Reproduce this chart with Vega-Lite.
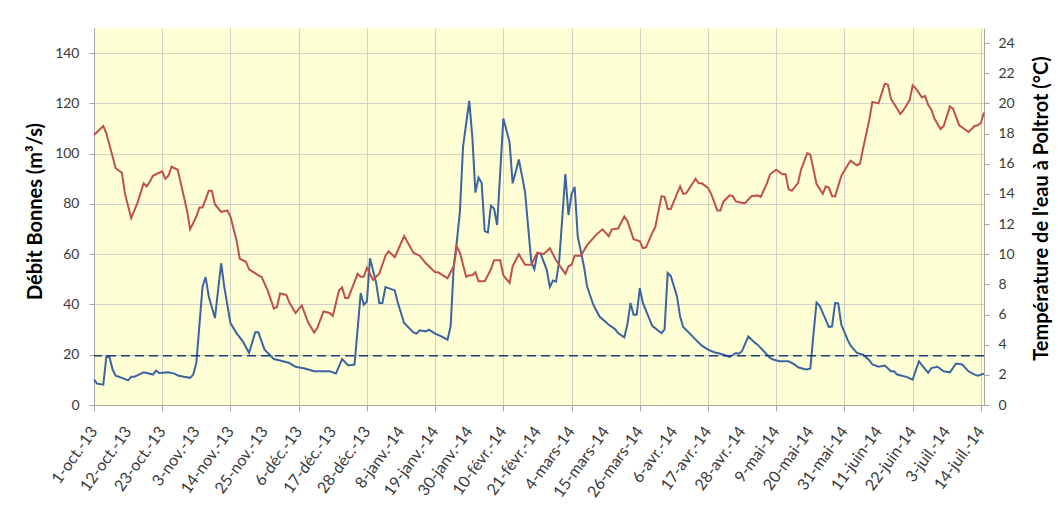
{
  "$schema": "https://vega.github.io/schema/vega-lite/v6.json",
  "width": 890,
  "height": 377,
  "autosize": {"type": "none"},
  "padding": {"left": 94, "top": 28, "right": 74, "bottom": 103},
  "background": "white",
  "config": {
    "view": {"fill": "#FFFFD5", "stroke": null},
    "font": "Lato",
    "axis": {
      "labelFont": "Lato",
      "titleFont": "Lato",
      "labelColor": "#3A3A3A",
      "labelFontSize": 14,
      "titleFontSize": 20,
      "titleFontWeight": "bold",
      "titleColor": "#000000",
      "gridColor": "#D2D2C4",
      "gridWidth": 1,
      "tickColor": "#A6A6A6",
      "domainColor": "#A6A6A6"
    }
  },
  "datasets": {
    "debit": [
      {"date": "2013-10-01", "q": 10.1}, {"date": "2013-10-02", "q": 8.5}, {"date": "2013-10-04", "q": 8.1},
      {"date": "2013-10-05", "q": 19.4}, {"date": "2013-10-06", "q": 19.0}, {"date": "2013-10-07", "q": 14.1},
      {"date": "2013-10-08", "q": 11.7}, {"date": "2013-10-10", "q": 10.8}, {"date": "2013-10-12", "q": 9.8},
      {"date": "2013-10-13", "q": 11.2}, {"date": "2013-10-14", "q": 11.2}, {"date": "2013-10-17", "q": 13.0},
      {"date": "2013-10-18", "q": 12.7}, {"date": "2013-10-20", "q": 12.1}, {"date": "2013-10-21", "q": 13.7},
      {"date": "2013-10-22", "q": 12.7}, {"date": "2013-10-25", "q": 13.0}, {"date": "2013-10-27", "q": 12.5},
      {"date": "2013-10-28", "q": 11.7}, {"date": "2013-10-30", "q": 11.2}, {"date": "2013-11-01", "q": 10.8},
      {"date": "2013-11-02", "q": 12.1}, {"date": "2013-11-03", "q": 16.7}, {"date": "2013-11-05", "q": 47.1},
      {"date": "2013-11-06", "q": 50.9}, {"date": "2013-11-07", "q": 43.2}, {"date": "2013-11-09", "q": 34.6},
      {"date": "2013-11-11", "q": 56.4}, {"date": "2013-11-12", "q": 47.1}, {"date": "2013-11-14", "q": 32.6},
      {"date": "2013-11-16", "q": 28.5}, {"date": "2013-11-18", "q": 25.3}, {"date": "2013-11-20", "q": 20.7},
      {"date": "2013-11-22", "q": 28.9}, {"date": "2013-11-23", "q": 28.9}, {"date": "2013-11-25", "q": 22.0},
      {"date": "2013-11-28", "q": 18.3}, {"date": "2013-11-30", "q": 17.7}, {"date": "2013-12-03", "q": 16.7},
      {"date": "2013-12-05", "q": 15.2}, {"date": "2013-12-08", "q": 14.5}, {"date": "2013-12-11", "q": 13.4},
      {"date": "2013-12-14", "q": 13.4}, {"date": "2013-12-16", "q": 13.4}, {"date": "2013-12-18", "q": 12.5},
      {"date": "2013-12-20", "q": 18.3}, {"date": "2013-12-22", "q": 15.7}, {"date": "2013-12-24", "q": 16.1},
      {"date": "2013-12-25", "q": 30.0}, {"date": "2013-12-26", "q": 44.5}, {"date": "2013-12-27", "q": 39.9},
      {"date": "2013-12-28", "q": 41.2}, {"date": "2013-12-29", "q": 58.4}, {"date": "2013-12-31", "q": 48.5},
      {"date": "2014-01-01", "q": 40.6}, {"date": "2014-01-02", "q": 40.6}, {"date": "2014-01-03", "q": 46.9},
      {"date": "2014-01-04", "q": 46.5}, {"date": "2014-01-06", "q": 45.6}, {"date": "2014-01-07", "q": 40.6},
      {"date": "2014-01-09", "q": 32.6}, {"date": "2014-01-12", "q": 28.9}, {"date": "2014-01-13", "q": 28.4},
      {"date": "2014-01-14", "q": 29.7}, {"date": "2014-01-16", "q": 29.3}, {"date": "2014-01-17", "q": 30.0},
      {"date": "2014-01-19", "q": 28.4}, {"date": "2014-01-21", "q": 27.3}, {"date": "2014-01-23", "q": 26.0},
      {"date": "2014-01-24", "q": 31.3}, {"date": "2014-01-25", "q": 55.0}, {"date": "2014-01-26", "q": 65.0},
      {"date": "2014-01-27", "q": 76.9}, {"date": "2014-01-28", "q": 102.7}, {"date": "2014-01-30", "q": 121.0},
      {"date": "2014-01-31", "q": 106.7}, {"date": "2014-02-01", "q": 84.5}, {"date": "2014-02-02", "q": 90.5},
      {"date": "2014-02-03", "q": 88.4}, {"date": "2014-02-04", "q": 69.2}, {"date": "2014-02-05", "q": 68.6},
      {"date": "2014-02-06", "q": 79.3}, {"date": "2014-02-07", "q": 78.2}, {"date": "2014-02-08", "q": 71.6},
      {"date": "2014-02-10", "q": 114.0}, {"date": "2014-02-12", "q": 104.7}, {"date": "2014-02-13", "q": 88.2},
      {"date": "2014-02-14", "q": 92.8}, {"date": "2014-02-15", "q": 97.7}, {"date": "2014-02-17", "q": 84.8},
      {"date": "2014-02-19", "q": 57.1}, {"date": "2014-02-20", "q": 54.0}, {"date": "2014-02-21", "q": 60.4},
      {"date": "2014-02-22", "q": 60.3}, {"date": "2014-02-24", "q": 53.8}, {"date": "2014-02-25", "q": 46.9},
      {"date": "2014-02-26", "q": 49.5}, {"date": "2014-02-27", "q": 49.1}, {"date": "2014-02-28", "q": 57.1},
      {"date": "2014-03-01", "q": 74.3}, {"date": "2014-03-02", "q": 91.9}, {"date": "2014-03-03", "q": 75.6},
      {"date": "2014-03-04", "q": 83.9}, {"date": "2014-03-05", "q": 86.8}, {"date": "2014-03-06", "q": 67.0},
      {"date": "2014-03-08", "q": 55.1}, {"date": "2014-03-09", "q": 47.1}, {"date": "2014-03-11", "q": 39.9},
      {"date": "2014-03-13", "q": 35.2}, {"date": "2014-03-16", "q": 31.9}, {"date": "2014-03-18", "q": 30.2},
      {"date": "2014-03-19", "q": 28.6}, {"date": "2014-03-21", "q": 26.9}, {"date": "2014-03-22", "q": 32.0},
      {"date": "2014-03-23", "q": 40.6}, {"date": "2014-03-24", "q": 35.9}, {"date": "2014-03-25", "q": 35.9},
      {"date": "2014-03-26", "q": 46.5}, {"date": "2014-03-27", "q": 40.6}, {"date": "2014-03-29", "q": 34.6},
      {"date": "2014-03-30", "q": 31.5}, {"date": "2014-04-02", "q": 28.6}, {"date": "2014-04-03", "q": 30.1},
      {"date": "2014-04-04", "q": 52.5}, {"date": "2014-04-05", "q": 51.3}, {"date": "2014-04-07", "q": 43.2},
      {"date": "2014-04-08", "q": 35.2}, {"date": "2014-04-09", "q": 31.0}, {"date": "2014-04-11", "q": 28.6},
      {"date": "2014-04-13", "q": 26.0}, {"date": "2014-04-15", "q": 23.6}, {"date": "2014-04-17", "q": 22.0},
      {"date": "2014-04-19", "q": 21.0}, {"date": "2014-04-21", "q": 20.4}, {"date": "2014-04-23", "q": 19.6},
      {"date": "2014-04-24", "q": 19.1}, {"date": "2014-04-26", "q": 20.7}, {"date": "2014-04-27", "q": 20.4},
      {"date": "2014-04-28", "q": 21.5}, {"date": "2014-04-30", "q": 27.3}, {"date": "2014-05-02", "q": 24.9},
      {"date": "2014-05-03", "q": 24.0}, {"date": "2014-05-05", "q": 21.4}, {"date": "2014-05-07", "q": 18.7},
      {"date": "2014-05-08", "q": 18.1}, {"date": "2014-05-10", "q": 17.4}, {"date": "2014-05-13", "q": 17.4},
      {"date": "2014-05-15", "q": 16.1}, {"date": "2014-05-16", "q": 15.0}, {"date": "2014-05-18", "q": 14.3},
      {"date": "2014-05-19", "q": 14.1}, {"date": "2014-05-20", "q": 14.5}, {"date": "2014-05-21", "q": 28.0},
      {"date": "2014-05-22", "q": 40.8}, {"date": "2014-05-23", "q": 39.5}, {"date": "2014-05-26", "q": 31.0},
      {"date": "2014-05-27", "q": 31.3}, {"date": "2014-05-28", "q": 40.6}, {"date": "2014-05-29", "q": 40.4},
      {"date": "2014-05-30", "q": 31.9}, {"date": "2014-06-01", "q": 26.0}, {"date": "2014-06-02", "q": 23.6},
      {"date": "2014-06-04", "q": 20.7}, {"date": "2014-06-06", "q": 20.0}, {"date": "2014-06-08", "q": 17.8},
      {"date": "2014-06-09", "q": 16.1}, {"date": "2014-06-11", "q": 15.2}, {"date": "2014-06-13", "q": 15.7},
      {"date": "2014-06-15", "q": 13.4}, {"date": "2014-06-16", "q": 13.4}, {"date": "2014-06-17", "q": 12.1},
      {"date": "2014-06-20", "q": 11.2}, {"date": "2014-06-22", "q": 10.1}, {"date": "2014-06-24", "q": 17.4},
      {"date": "2014-06-27", "q": 12.8}, {"date": "2014-06-28", "q": 14.7}, {"date": "2014-06-30", "q": 15.2},
      {"date": "2014-07-02", "q": 13.4}, {"date": "2014-07-04", "q": 13.0}, {"date": "2014-07-06", "q": 16.5},
      {"date": "2014-07-08", "q": 16.1}, {"date": "2014-07-10", "q": 13.4}, {"date": "2014-07-12", "q": 12.1},
      {"date": "2014-07-13", "q": 11.7}, {"date": "2014-07-15", "q": 12.5}
    ],
    "temp": [
      {"date": "2013-10-01", "t": 17.9}, {"date": "2013-10-03", "t": 18.3}, {"date": "2013-10-04", "t": 18.5},
      {"date": "2013-10-05", "t": 18.0}, {"date": "2013-10-08", "t": 15.7}, {"date": "2013-10-10", "t": 15.4},
      {"date": "2013-10-11", "t": 14.0}, {"date": "2013-10-13", "t": 12.4}, {"date": "2013-10-15", "t": 13.4},
      {"date": "2013-10-17", "t": 14.7}, {"date": "2013-10-18", "t": 14.5}, {"date": "2013-10-19", "t": 14.8},
      {"date": "2013-10-20", "t": 15.2}, {"date": "2013-10-22", "t": 15.4}, {"date": "2013-10-23", "t": 15.5},
      {"date": "2013-10-24", "t": 15.0}, {"date": "2013-10-25", "t": 15.2}, {"date": "2013-10-26", "t": 15.8},
      {"date": "2013-10-28", "t": 15.6}, {"date": "2013-10-29", "t": 14.7}, {"date": "2013-10-31", "t": 12.9},
      {"date": "2013-11-01", "t": 11.65}, {"date": "2013-11-03", "t": 12.5}, {"date": "2013-11-04", "t": 13.1},
      {"date": "2013-11-05", "t": 13.1}, {"date": "2013-11-07", "t": 14.2}, {"date": "2013-11-08", "t": 14.2},
      {"date": "2013-11-09", "t": 13.3}, {"date": "2013-11-11", "t": 12.8}, {"date": "2013-11-13", "t": 12.9},
      {"date": "2013-11-14", "t": 12.5}, {"date": "2013-11-16", "t": 10.9}, {"date": "2013-11-17", "t": 9.7},
      {"date": "2013-11-19", "t": 9.5}, {"date": "2013-11-20", "t": 9.0}, {"date": "2013-11-23", "t": 8.6},
      {"date": "2013-11-24", "t": 8.5}, {"date": "2013-11-26", "t": 7.6}, {"date": "2013-11-28", "t": 6.4},
      {"date": "2013-11-29", "t": 6.5}, {"date": "2013-11-30", "t": 7.4}, {"date": "2013-12-02", "t": 7.3},
      {"date": "2013-12-03", "t": 6.8}, {"date": "2013-12-05", "t": 6.1}, {"date": "2013-12-07", "t": 6.6},
      {"date": "2013-12-09", "t": 5.5}, {"date": "2013-12-11", "t": 4.8}, {"date": "2013-12-12", "t": 5.1},
      {"date": "2013-12-14", "t": 6.2}, {"date": "2013-12-16", "t": 6.1}, {"date": "2013-12-17", "t": 5.9},
      {"date": "2013-12-19", "t": 7.6}, {"date": "2013-12-20", "t": 7.8}, {"date": "2013-12-21", "t": 7.1},
      {"date": "2013-12-22", "t": 7.1}, {"date": "2013-12-25", "t": 8.7}, {"date": "2013-12-26", "t": 8.5},
      {"date": "2013-12-27", "t": 8.5}, {"date": "2013-12-28", "t": 9.1}, {"date": "2013-12-30", "t": 8.3},
      {"date": "2014-01-01", "t": 8.7}, {"date": "2014-01-03", "t": 9.9}, {"date": "2014-01-04", "t": 10.2},
      {"date": "2014-01-06", "t": 9.8}, {"date": "2014-01-09", "t": 11.2}, {"date": "2014-01-12", "t": 10.1},
      {"date": "2014-01-14", "t": 9.9}, {"date": "2014-01-16", "t": 9.4}, {"date": "2014-01-19", "t": 8.8},
      {"date": "2014-01-20", "t": 8.8}, {"date": "2014-01-23", "t": 8.4}, {"date": "2014-01-25", "t": 9.2},
      {"date": "2014-01-26", "t": 10.5}, {"date": "2014-01-27", "t": 10.1}, {"date": "2014-01-29", "t": 8.5},
      {"date": "2014-01-30", "t": 8.6}, {"date": "2014-01-31", "t": 8.6}, {"date": "2014-02-01", "t": 8.8},
      {"date": "2014-02-02", "t": 8.2}, {"date": "2014-02-04", "t": 8.2}, {"date": "2014-02-06", "t": 9.0},
      {"date": "2014-02-07", "t": 9.6}, {"date": "2014-02-09", "t": 9.6}, {"date": "2014-02-10", "t": 8.6},
      {"date": "2014-02-12", "t": 8.1}, {"date": "2014-02-13", "t": 9.2}, {"date": "2014-02-15", "t": 10.0},
      {"date": "2014-02-17", "t": 9.3}, {"date": "2014-02-19", "t": 9.3}, {"date": "2014-02-21", "t": 10.1},
      {"date": "2014-02-23", "t": 10.0}, {"date": "2014-02-25", "t": 10.4}, {"date": "2014-02-27", "t": 9.6},
      {"date": "2014-03-02", "t": 8.7}, {"date": "2014-03-03", "t": 9.2}, {"date": "2014-03-04", "t": 9.3},
      {"date": "2014-03-05", "t": 9.9}, {"date": "2014-03-07", "t": 9.9}, {"date": "2014-03-09", "t": 10.6},
      {"date": "2014-03-12", "t": 11.3}, {"date": "2014-03-14", "t": 11.65}, {"date": "2014-03-16", "t": 11.2},
      {"date": "2014-03-17", "t": 11.65}, {"date": "2014-03-19", "t": 11.7}, {"date": "2014-03-21", "t": 12.5},
      {"date": "2014-03-22", "t": 12.2}, {"date": "2014-03-24", "t": 11.0}, {"date": "2014-03-26", "t": 10.85},
      {"date": "2014-03-27", "t": 10.4}, {"date": "2014-03-28", "t": 10.45}, {"date": "2014-03-30", "t": 11.4},
      {"date": "2014-03-31", "t": 11.8}, {"date": "2014-04-02", "t": 13.85}, {"date": "2014-04-03", "t": 13.8},
      {"date": "2014-04-04", "t": 13.0}, {"date": "2014-04-05", "t": 13.0}, {"date": "2014-04-07", "t": 14.0},
      {"date": "2014-04-08", "t": 14.5}, {"date": "2014-04-09", "t": 14.0}, {"date": "2014-04-10", "t": 14.05},
      {"date": "2014-04-13", "t": 15.0}, {"date": "2014-04-14", "t": 14.7}, {"date": "2014-04-15", "t": 14.7},
      {"date": "2014-04-17", "t": 14.4}, {"date": "2014-04-18", "t": 14.0}, {"date": "2014-04-20", "t": 12.9},
      {"date": "2014-04-21", "t": 12.9}, {"date": "2014-04-22", "t": 13.5}, {"date": "2014-04-24", "t": 13.9},
      {"date": "2014-04-25", "t": 13.85}, {"date": "2014-04-26", "t": 13.5}, {"date": "2014-04-28", "t": 13.4},
      {"date": "2014-04-29", "t": 13.4}, {"date": "2014-05-01", "t": 13.85}, {"date": "2014-05-03", "t": 13.9},
      {"date": "2014-05-04", "t": 13.8}, {"date": "2014-05-06", "t": 14.7}, {"date": "2014-05-07", "t": 15.3},
      {"date": "2014-05-09", "t": 15.6}, {"date": "2014-05-11", "t": 15.3}, {"date": "2014-05-12", "t": 15.3},
      {"date": "2014-05-13", "t": 14.3}, {"date": "2014-05-14", "t": 14.2}, {"date": "2014-05-16", "t": 14.7},
      {"date": "2014-05-17", "t": 15.6}, {"date": "2014-05-19", "t": 16.7}, {"date": "2014-05-20", "t": 16.6},
      {"date": "2014-05-22", "t": 14.65}, {"date": "2014-05-24", "t": 14.0}, {"date": "2014-05-25", "t": 14.5},
      {"date": "2014-05-26", "t": 14.4}, {"date": "2014-05-27", "t": 13.85}, {"date": "2014-05-28", "t": 13.85},
      {"date": "2014-05-30", "t": 15.2}, {"date": "2014-06-01", "t": 15.9}, {"date": "2014-06-02", "t": 16.2},
      {"date": "2014-06-04", "t": 15.9}, {"date": "2014-06-05", "t": 16.0}, {"date": "2014-06-06", "t": 17.0},
      {"date": "2014-06-08", "t": 18.9}, {"date": "2014-06-09", "t": 20.1}, {"date": "2014-06-11", "t": 20.0},
      {"date": "2014-06-13", "t": 21.3}, {"date": "2014-06-14", "t": 21.25}, {"date": "2014-06-15", "t": 20.3},
      {"date": "2014-06-17", "t": 19.65}, {"date": "2014-06-18", "t": 19.3}, {"date": "2014-06-19", "t": 19.55},
      {"date": "2014-06-21", "t": 20.2}, {"date": "2014-06-22", "t": 21.2}, {"date": "2014-06-23", "t": 21.0},
      {"date": "2014-06-25", "t": 20.4}, {"date": "2014-06-26", "t": 20.5}, {"date": "2014-06-27", "t": 19.9},
      {"date": "2014-06-28", "t": 19.6}, {"date": "2014-06-29", "t": 19.0}, {"date": "2014-07-01", "t": 18.3},
      {"date": "2014-07-02", "t": 18.5}, {"date": "2014-07-04", "t": 19.8}, {"date": "2014-07-05", "t": 19.65},
      {"date": "2014-07-07", "t": 18.55}, {"date": "2014-07-08", "t": 18.4}, {"date": "2014-07-10", "t": 18.1},
      {"date": "2014-07-12", "t": 18.5}, {"date": "2014-07-13", "t": 18.55}, {"date": "2014-07-14", "t": 18.7},
      {"date": "2014-07-15", "t": 19.4}
    ],
    "seuil": [{"s": 19.6}],
    "xlabels": [
      {"date": "2013-10-01", "label": "1-oct.-13"}, {"date": "2013-10-12", "label": "12-oct.-13"},
      {"date": "2013-10-23", "label": "23-oct.-13"}, {"date": "2013-11-03", "label": "3-nov.-13"},
      {"date": "2013-11-14", "label": "14-nov.-13"}, {"date": "2013-11-25", "label": "25-nov.-13"},
      {"date": "2013-12-06", "label": "6-déc.-13"}, {"date": "2013-12-17", "label": "17-déc.-13"},
      {"date": "2013-12-28", "label": "28-déc.-13"}, {"date": "2014-01-08", "label": "8-janv.-14"},
      {"date": "2014-01-19", "label": "19-janv.-14"}, {"date": "2014-01-30", "label": "30-janv.-14"},
      {"date": "2014-02-10", "label": "10-févr.-14"}, {"date": "2014-02-21", "label": "21-févr.-14"},
      {"date": "2014-03-04", "label": "4-mars-14"}, {"date": "2014-03-15", "label": "15-mars-14"},
      {"date": "2014-03-26", "label": "26-mars-14"}, {"date": "2014-04-06", "label": "6-avr.-14"},
      {"date": "2014-04-17", "label": "17-avr.-14"}, {"date": "2014-04-28", "label": "28-avr.-14"},
      {"date": "2014-05-09", "label": "9-mai-14"}, {"date": "2014-05-20", "label": "20-mai-14"},
      {"date": "2014-05-31", "label": "31-mai-14"}, {"date": "2014-06-11", "label": "11-juin-14"},
      {"date": "2014-06-22", "label": "22-juin-14"}, {"date": "2014-07-03", "label": "3-juil.-14"},
      {"date": "2014-07-14", "label": "14-juil.-14"}
    ]
  },
  "layer": [
    {
      "layer": [
        {
          "data": {"name": "debit"},
          "mark": {"type": "line", "color": "#3C64A0", "strokeWidth": 2},
          "encoding": {
            "x": {
              "field": "date",
              "type": "temporal",
              "scale": {
                "type": "utc",
                "domain": [
                  {"year": 2013, "month": 10, "date": 1, "utc": true},
                  {"year": 2014, "month": 7, "date": 15, "utc": true}
                ]
              },
              "axis": {
                "title": null,
                "values": [
                  {"year": 2013, "month": 10, "date": 1, "utc": true},
                  {"year": 2013, "month": 10, "date": 12, "utc": true},
                  {"year": 2013, "month": 10, "date": 23, "utc": true},
                  {"year": 2013, "month": 11, "date": 3, "utc": true},
                  {"year": 2013, "month": 11, "date": 14, "utc": true},
                  {"year": 2013, "month": 11, "date": 25, "utc": true},
                  {"year": 2013, "month": 12, "date": 6, "utc": true},
                  {"year": 2013, "month": 12, "date": 17, "utc": true},
                  {"year": 2013, "month": 12, "date": 28, "utc": true},
                  {"year": 2014, "month": 1, "date": 8, "utc": true},
                  {"year": 2014, "month": 1, "date": 19, "utc": true},
                  {"year": 2014, "month": 1, "date": 30, "utc": true},
                  {"year": 2014, "month": 2, "date": 10, "utc": true},
                  {"year": 2014, "month": 2, "date": 21, "utc": true},
                  {"year": 2014, "month": 3, "date": 4, "utc": true},
                  {"year": 2014, "month": 3, "date": 15, "utc": true},
                  {"year": 2014, "month": 3, "date": 26, "utc": true},
                  {"year": 2014, "month": 4, "date": 6, "utc": true},
                  {"year": 2014, "month": 4, "date": 17, "utc": true},
                  {"year": 2014, "month": 4, "date": 28, "utc": true},
                  {"year": 2014, "month": 5, "date": 9, "utc": true},
                  {"year": 2014, "month": 5, "date": 20, "utc": true},
                  {"year": 2014, "month": 5, "date": 31, "utc": true},
                  {"year": 2014, "month": 6, "date": 11, "utc": true},
                  {"year": 2014, "month": 6, "date": 22, "utc": true},
                  {"year": 2014, "month": 7, "date": 3, "utc": true},
                  {"year": 2014, "month": 7, "date": 14, "utc": true}
                ],
                "labels": false,
                "tickSize": 6,
                "grid": true
              }
            },
            "y": {
              "field": "q",
              "type": "quantitative",
              "scale": {"domain": [0, 150], "nice": false},
              "axis": {
                "title": "Débit Bonnes (m³/s)",
                "values": [0, 20, 40, 60, 80, 100, 120, 140],
                "grid": true,
                "tickSize": 5,
                "labelPadding": 10,
                "labelFontSize": 14,
                "titleX": -59,
                "titleY": 183,
                "titleAngle": -90,
                "titleAlign": "center",
                "titleBaseline": "middle"
              }
            }
          }
        },
        {
          "data": {"name": "seuil"},
          "mark": {"type": "rule", "color": "#1F3A7A", "strokeDash": [9, 5], "strokeWidth": 1.5},
          "encoding": {"y": {"field": "s", "type": "quantitative"}}
        },
        {
          "data": {"name": "xlabels"},
          "mark": {
            "type": "text",
            "angle": 306,
            "align": "right",
            "baseline": "middle",
            "dx": -19,
            "dy": 14,
            "font": "Lato",
            "fontSize": 16,
            "color": "#3A3A3A"
          },
          "encoding": {
            "x": {"field": "date", "type": "temporal"},
            "y": {"datum": 0, "type": "quantitative"},
            "text": {"field": "label", "type": "nominal"}
          }
        }
      ]
    },
    {
      "data": {"name": "temp"},
      "mark": {"type": "line", "color": "#C0504D", "strokeWidth": 2},
      "encoding": {
        "x": {"field": "date", "type": "temporal"},
        "y": {
          "field": "t",
          "type": "quantitative",
          "scale": {"domain": [0, 25], "nice": false},
          "axis": {
            "orient": "right",
            "title": "Température de l'eau à Poltrot (°C)",
            "values": [0, 2, 4, 6, 8, 10, 12, 14, 16, 18, 20, 22, 24],
            "grid": false,
            "tickSize": 5,
            "labelPadding": 9,
            "labelFontSize": 14,
            "titleX": 57,
            "titleY": 180,
            "titleAngle": 270,
            "titleAlign": "center",
            "titleBaseline": "middle"
          }
        }
      }
    }
  ],
  "resolve": {"scale": {"y": "independent"}}
}
